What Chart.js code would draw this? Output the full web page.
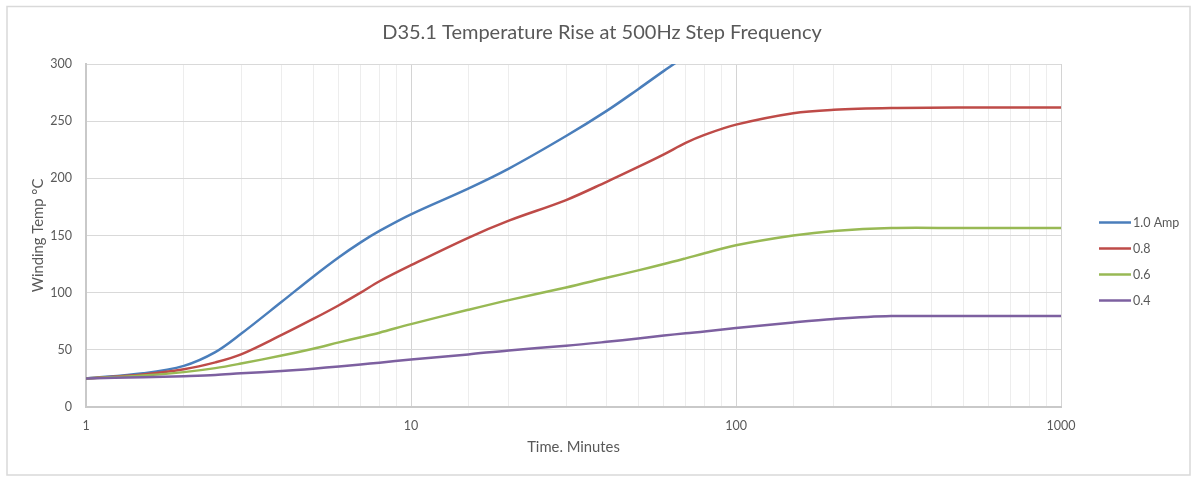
<!DOCTYPE html>
<html>
<head>
<meta charset="utf-8">
<script src="https://cdn.jsdelivr.net/npm/chart.js@4.4.0/dist/chart.umd.min.js"></script>
<style>
html,body{margin:0;padding:0;background:#fff;}
#wrap{width:1194px;height:477px;position:relative;}
canvas{display:block;}
</style>
</head>
<body>
<div id="wrap"><canvas id="c" width="1194" height="477"></canvas></div>
<script>
// ---- data ----
const times   = [1, 1.5, 2, 2.5, 3, 4, 5, 6, 7, 8, 10, 15, 20, 30, 40, 50, 60, 70, 80, 100, 150, 200, 300, 500, 1000];
const amp10   = [25, 29.5, 36, 48, 64, 92, 114, 131, 144, 154, 168.5, 191, 208.5, 237, 259, 278, 294, 307, null, null, null, null, null, null, null];
const amp08   = [25, 28.5, 33, 39, 46, 63, 77, 89, 100, 110, 124, 148, 163, 181, 197, 210, 221, 231, 238, 247, 257, 260, 261.5, 262, 262];
const amp06   = [25, 27.5, 30.5, 34, 38, 45, 51, 56.5, 61, 65, 72.5, 85, 93.5, 104.5, 113, 119.5, 125, 130, 134.5, 141.5, 150, 154, 156.5, 156.5, 156.5];
const amp04   = [25, 26, 27, 28, 29.5, 31.5, 33.5, 35.5, 37.2, 38.8, 41.5, 46, 49.5, 53.5, 57, 60, 62.5, 64.5, 66, 69, 74, 77, 79.5, 79.5, 79.5];
const seriesNames  = ['1.0 Amp', '0.8', '0.6', '0.4'];
const seriesValues = [amp10, amp08, amp06, amp04];
const seriesColors = ['#4A7EBB', '#BE4B48', '#98B954', '#7D60A0'];
const xTickLabels  = [1, 10, 100, 1000];
const yTickValues  = [0, 50, 100, 150, 200, 250, 300];
const chartTitle   = 'D35.1 Temperature Rise at 500Hz Step Frequency';
const xTitle       = 'Time. Minutes';
const yTitle       = 'Winding Temp °C';

const FONT = 'Lato';
const TXT = '#595959';

const datasets = seriesNames.map((name, i) => ({
  label: name,
  data: times.map((t, k) => ({x: t, y: seriesValues[i][k]})).filter(p => p.y !== null),
  borderColor: seriesColors[i],
  backgroundColor: seriesColors[i],
  borderWidth: 2.5,
  pointRadius: 0,
  pointHoverRadius: 0,
  fill: false,
  tension: 0.35,
  order: seriesNames.length - i
}));

const isDecade = v => Math.abs(Math.log10(v) - Math.round(Math.log10(v))) < 1e-9;

const frame = {
  id: 'frame',
  beforeDraw(chart) {
    const c = chart.ctx;
    c.save();
    c.fillStyle = '#fff';
    c.fillRect(0, 0, chart.width, chart.height);
    c.strokeStyle = '#D9D9D9';
    c.lineWidth = 1.5;
    c.strokeRect(7, 6.5, 1183, 468.5);
    c.restore();
  },
  afterDraw(chart) {
    const c = chart.ctx;
    c.save();
    c.fillStyle = TXT;
    c.font = '20px ' + FONT;
    c.textAlign = 'center';
    c.textBaseline = 'middle';
    c.fillText(chartTitle, 602, 33);
    c.restore();
  }
};

const sideLegend = {
  id: 'sideLegend',
  afterDraw(chart) {
    const c = chart.ctx;
    c.save();
    chart.data.datasets.forEach((ds, i) => {
      const y = 222.5 + i * 26;
      c.strokeStyle = ds.borderColor;
      c.lineWidth = 2.5;
      c.beginPath();
      c.moveTo(1099, y);
      c.lineTo(1131, y);
      c.stroke();
      c.fillStyle = TXT;
      c.font = '12.5px ' + FONT;
      c.textBaseline = 'middle';
      c.textAlign = 'left';
      c.fillText(ds.label, 1133, y + 0.5);
    });
    c.restore();
  }
};

new Chart(document.getElementById('c'), {
  type: 'line',
  data: { datasets },
  plugins: [frame, sideLegend],
  options: {
    responsive: false,
    animation: false,
    events: [],
    layout: { padding: { left: 0, right: 133, top: 64, bottom: 0 } },
    plugins: {
      legend: { display: false },
      tooltip: { enabled: false },
      title: { display: false }
    },
    scales: {
      x: {
        type: 'logarithmic',
        min: 1,
        max: 1000,
        afterFit(s) { s.height = 70; },
        ticks: {
          autoSkip: false,
          maxRotation: 0,
          padding: 11,
          color: TXT,
          font: { family: FONT, size: 12.5 },
          callback: (v) => (xTickLabels.includes(v) ? String(v) : '')
        },
        grid: {
          drawTicks: false,
          lineWidth: 1,
          color: (ctx) => (ctx.tick && isDecade(ctx.tick.value) ? '#D4D4D4' : '#EDEDED')
        },
        border: { color: '#C9C9C9', width: 2 },
        title: {
          display: true,
          text: xTitle,
          color: TXT,
          font: { family: FONT, size: 14.8 },
          padding: { top: 0, bottom: 20.6 }
        }
      },
      y: {
        min: 0,
        max: 300,
        afterFit(s) { s.width = 86; },
        afterBuildTicks(s) { s.ticks = yTickValues.map(v => ({ value: v })); },
        ticks: {
          padding: 14,
          color: TXT,
          font: { family: FONT, size: 12.5 }
        },
        grid: { drawTicks: false, color: '#D9D9D9', lineWidth: 1 },
        border: { color: '#C9C9C9', width: 2 },
        title: {
          display: true,
          text: yTitle,
          color: TXT,
          font: { family: FONT, size: 14.8 },
          padding: { top: 29.6, bottom: 0 }
        }
      }
    }
  }
});
</script>
</body>
</html>
